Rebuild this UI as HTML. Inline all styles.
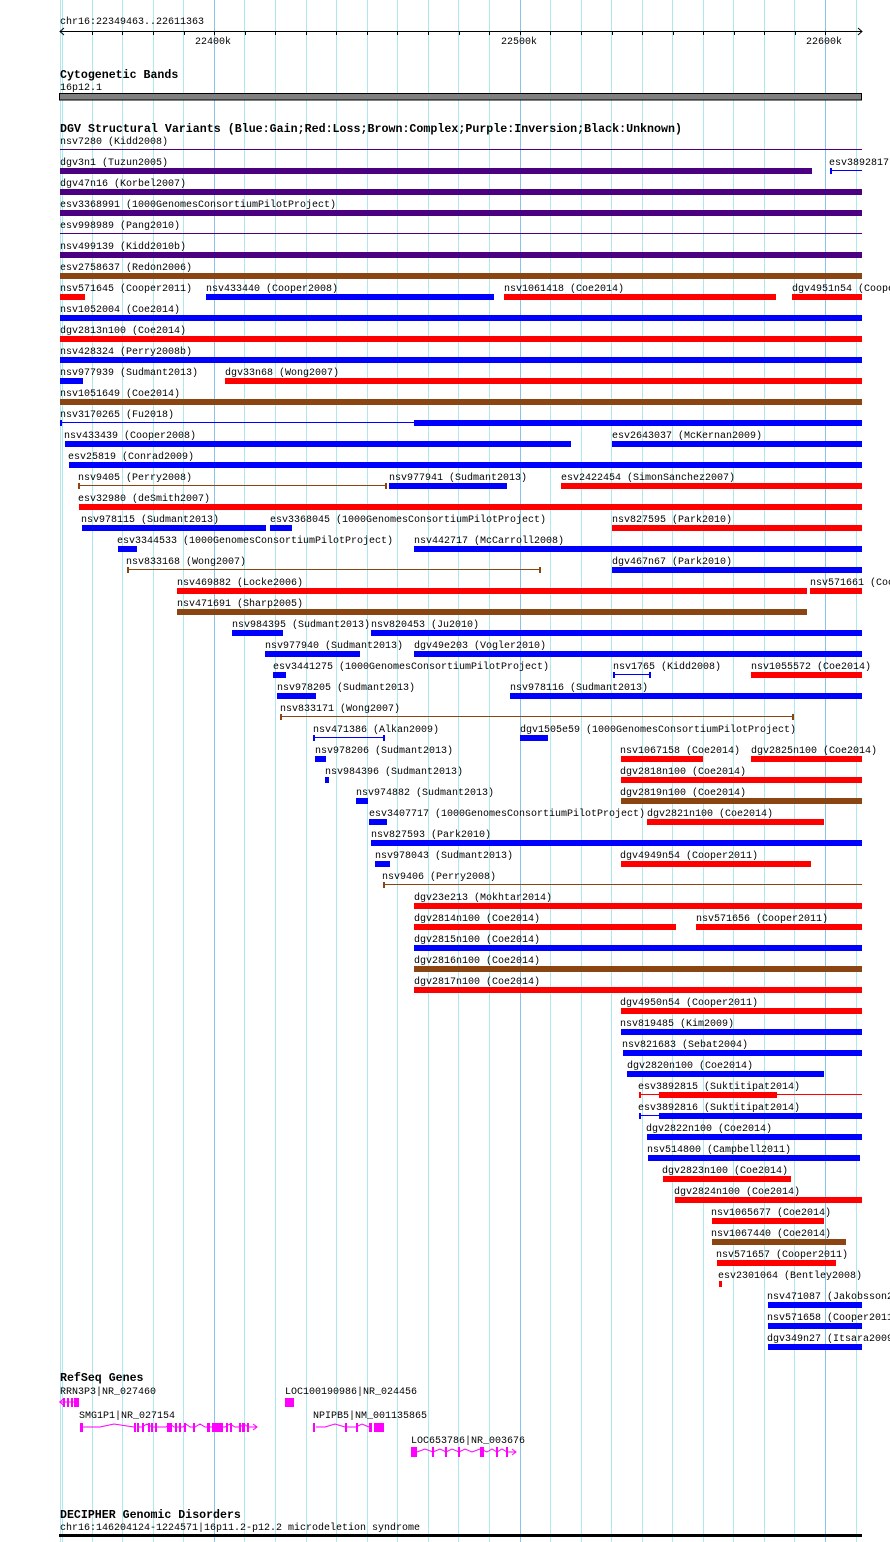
<!DOCTYPE html>
<html><head><meta charset="utf-8">
<style>
html,body{margin:0;padding:0;background:#fff;width:890px;height:1542px;overflow:hidden}
svg{display:block}
text{font-family:"Liberation Mono","DejaVu Sans Mono",monospace;font-size:10px;fill:#000}
text.b{font-weight:bold;font-size:11.6px}
.B{fill:#0000ff}.R{fill:#ff0000}.P{fill:#4b0082}.N{fill:#8b4513}.M{fill:#ff00ff}
</style></head><body>
<svg width="890" height="1542" xmlns="http://www.w3.org/2000/svg">
<g fill="#b0e8f0">
<rect x="60" y="0" width="1" height="1542"/><rect x="62" y="0" width="1" height="1542"/>
<rect x="92" y="0" width="1" height="1542"/><rect x="122" y="0" width="1" height="1542"/>
<rect x="153" y="0" width="1" height="1542"/><rect x="183" y="0" width="1" height="1542"/>
<rect x="244" y="0" width="1" height="1542"/><rect x="275" y="0" width="1" height="1542"/>
<rect x="306" y="0" width="1" height="1542"/><rect x="336" y="0" width="1" height="1542"/>
<rect x="367" y="0" width="1" height="1542"/><rect x="397" y="0" width="1" height="1542"/>
<rect x="428" y="0" width="1" height="1542"/><rect x="458" y="0" width="1" height="1542"/>
<rect x="489" y="0" width="1" height="1542"/><rect x="550" y="0" width="1" height="1542"/>
<rect x="581" y="0" width="1" height="1542"/><rect x="611" y="0" width="1" height="1542"/>
<rect x="642" y="0" width="1" height="1542"/><rect x="672" y="0" width="1" height="1542"/>
<rect x="703" y="0" width="1" height="1542"/><rect x="733" y="0" width="1" height="1542"/>
<rect x="764" y="0" width="1" height="1542"/><rect x="794" y="0" width="1" height="1542"/>
<rect x="856" y="0" width="1" height="1542"/>
</g>
<g fill="#88c4e8">
<rect x="214" y="0" width="1" height="1542"/><rect x="520" y="0" width="1" height="1542"/><rect x="825" y="0" width="1" height="1542"/>
</g>

<!-- ruler -->
<text x="60" y="24">chr16:22349463..22611363</text>
<rect x="60" y="31" width="802" height="1" fill="#000"/>
<path d="M64 28 L60 31.5 L64 35 M858 28 L862 31.5 L858 35" stroke="#000" fill="none"/>
<g fill="#000">
<rect x="92" y="31" width="1" height="4"/><rect x="122" y="31" width="1" height="4"/><rect x="153" y="31" width="1" height="4"/><rect x="184" y="31" width="1" height="4"/><rect x="214" y="31" width="1" height="4"/><rect x="245" y="31" width="1" height="4"/><rect x="275" y="31" width="1" height="4"/><rect x="306" y="31" width="1" height="4"/><rect x="336" y="31" width="1" height="4"/><rect x="367" y="31" width="1" height="4"/><rect x="397" y="31" width="1" height="4"/><rect x="428" y="31" width="1" height="4"/><rect x="459" y="31" width="1" height="4"/><rect x="489" y="31" width="1" height="4"/><rect x="520" y="31" width="1" height="4"/><rect x="550" y="31" width="1" height="4"/><rect x="581" y="31" width="1" height="4"/><rect x="612" y="31" width="1" height="4"/><rect x="642" y="31" width="1" height="4"/><rect x="673" y="31" width="1" height="4"/><rect x="703" y="31" width="1" height="4"/><rect x="734" y="31" width="1" height="4"/><rect x="764" y="31" width="1" height="4"/><rect x="795" y="31" width="1" height="4"/><rect x="825" y="31" width="1" height="4"/>
</g>
<text x="195" y="44">22400k</text><text x="501" y="44">22500k</text><text x="806" y="44">22600k</text>

<!-- cytoband -->
<text class="b" x="60" y="78">Cytogenetic Bands</text>
<text x="60" y="90">16p12.1</text>
<rect x="59.5" y="93.5" width="802" height="6.5" fill="#808080" stroke="#000"/>

<text class="b" x="60" y="132" textLength="622" lengthAdjust="spacingAndGlyphs">DGV Structural Variants (Blue:Gain;Red:Loss;Brown:Complex;Purple:Inversion;Black:Unknown)</text>

<g transform="translate(0,136)"><text x="60" y="8">nsv7280 (Kidd2008)</text><rect class="P" x="60" y="13" width="802" height="1"/></g>
<g transform="translate(0,157)"><text x="60" y="8">dgv3n1 (Tuzun2005)</text><rect class="P" x="60" y="11" width="752" height="6"/><text x="829" y="8">esv3892817</text><rect class="B" x="830" y="13" width="32" height="1"/><rect class="B" x="830" y="11" width="2" height="6"/></g>
<g transform="translate(0,178)"><text x="60" y="8">dgv47n16 (Korbel2007)</text><rect class="P" x="60" y="11" width="802" height="6"/></g>
<g transform="translate(0,199)"><text x="60" y="8">esv3368991 (1000GenomesConsortiumPilotProject)</text><rect class="P" x="60" y="11" width="802" height="6"/></g>
<g transform="translate(0,220)"><text x="60" y="8">esv998989 (Pang2010)</text><rect class="P" x="60" y="13" width="802" height="1"/></g>
<g transform="translate(0,241)"><text x="60" y="8">nsv499139 (Kidd2010b)</text><rect class="P" x="60" y="11" width="802" height="6"/></g>
<g transform="translate(0,262)"><text x="60" y="8">esv2758637 (Redon2006)</text><rect class="N" x="60" y="11" width="802" height="6"/></g>
<g transform="translate(0,283)"><text x="60" y="8">nsv571645 (Cooper2011)</text><rect class="R" x="60" y="11" width="25" height="6"/><text x="206" y="8">nsv433440 (Cooper2008)</text><rect class="B" x="206" y="11" width="288" height="6"/><text x="504" y="8">nsv1061418 (Coe2014)</text><rect class="R" x="504" y="11" width="272" height="6"/><text x="792" y="8">dgv4951n54 (Cooper2011)</text><rect class="R" x="792" y="11" width="70" height="6"/></g>
<g transform="translate(0,304)"><text x="60" y="8">nsv1052004 (Coe2014)</text><rect class="B" x="60" y="11" width="802" height="6"/></g>
<g transform="translate(0,325)"><text x="60" y="8">dgv2813n100 (Coe2014)</text><rect class="R" x="60" y="11" width="802" height="6"/></g>
<g transform="translate(0,346)"><text x="60" y="8">nsv428324 (Perry2008b)</text><rect class="B" x="60" y="11" width="802" height="6"/></g>
<g transform="translate(0,367)"><text x="60" y="8">nsv977939 (Sudmant2013)</text><rect class="B" x="60" y="11" width="23" height="6"/><text x="225" y="8">dgv33n68 (Wong2007)</text><rect class="R" x="225" y="11" width="637" height="6"/></g>
<g transform="translate(0,388)"><text x="60" y="8">nsv1051649 (Coe2014)</text><rect class="N" x="60" y="11" width="802" height="6"/></g>
<g transform="translate(0,409)"><text x="60" y="8">nsv3170265 (Fu2018)</text><rect class="B" x="60" y="13" width="354" height="1"/><rect class="B" x="60" y="11" width="2" height="6"/><rect class="B" x="414" y="11" width="448" height="6"/></g>
<g transform="translate(0,430)"><text x="64" y="8">nsv433439 (Cooper2008)</text><rect class="B" x="65" y="11" width="506" height="6"/><text x="612" y="8">esv2643037 (McKernan2009)</text><rect class="B" x="612" y="11" width="250" height="6"/></g>
<g transform="translate(0,451)"><text x="68" y="8">esv25819 (Conrad2009)</text><rect class="B" x="69" y="11" width="793" height="6"/></g>
<g transform="translate(0,472)"><text x="78" y="8">nsv9405 (Perry2008)</text><rect class="N" x="78" y="13" width="308" height="1"/><rect class="N" x="78" y="11" width="2" height="6"/><rect class="N" x="385" y="11" width="2" height="6"/><text x="389" y="8">nsv977941 (Sudmant2013)</text><rect class="B" x="389" y="11" width="118" height="6"/><text x="561" y="8">esv2422454 (SimonSanchez2007)</text><rect class="R" x="561" y="11" width="301" height="6"/></g>
<g transform="translate(0,493)"><text x="78" y="8">esv32980 (deSmith2007)</text><rect class="R" x="79" y="11" width="783" height="6"/></g>
<g transform="translate(0,514)"><text x="81" y="8">nsv978115 (Sudmant2013)</text><rect class="B" x="82" y="11" width="184" height="6"/><text x="270" y="8">esv3368045 (1000GenomesConsortiumPilotProject)</text><rect class="B" x="270" y="11" width="22" height="6"/><text x="612" y="8">nsv827595 (Park2010)</text><rect class="R" x="612" y="11" width="250" height="6"/></g>
<g transform="translate(0,535)"><text x="117" y="8">esv3344533 (1000GenomesConsortiumPilotProject)</text><rect class="B" x="118" y="11" width="19" height="6"/><text x="414" y="8">nsv442717 (McCarroll2008)</text><rect class="B" x="414" y="11" width="448" height="6"/></g>
<g transform="translate(0,556)"><text x="126" y="8">nsv833168 (Wong2007)</text><rect class="N" x="127" y="13" width="414" height="1"/><rect class="N" x="127" y="11" width="2" height="6"/><rect class="N" x="539" y="11" width="2" height="6"/><text x="612" y="8">dgv467n67 (Park2010)</text><rect class="B" x="612" y="11" width="250" height="6"/></g>
<g transform="translate(0,577)"><text x="177" y="8">nsv469882 (Locke2006)</text><rect class="R" x="177" y="11" width="630" height="6"/><text x="810" y="8">nsv571661 (Cooper2011)</text><rect class="R" x="810" y="11" width="52" height="6"/></g>
<g transform="translate(0,598)"><text x="177" y="8">nsv471691 (Sharp2005)</text><rect class="N" x="177" y="11" width="630" height="6"/></g>
<g transform="translate(0,619)"><text x="232" y="8">nsv984395 (Sudmant2013)</text><rect class="B" x="232" y="11" width="51" height="6"/><text x="371" y="8">nsv820453 (Ju2010)</text><rect class="B" x="371" y="11" width="491" height="6"/></g>
<g transform="translate(0,640)"><text x="265" y="8">nsv977940 (Sudmant2013)</text><rect class="B" x="265" y="11" width="95" height="6"/><text x="414" y="8">dgv49e203 (Vogler2010)</text><rect class="B" x="414" y="11" width="448" height="6"/></g>
<g transform="translate(0,661)"><text x="273" y="8">esv3441275 (1000GenomesConsortiumPilotProject)</text><rect class="B" x="273" y="11" width="13" height="6"/><text x="613" y="8">nsv1765 (Kidd2008)</text><rect class="B" x="613" y="13" width="38" height="1"/><rect class="B" x="613" y="11" width="2" height="6"/><rect class="B" x="649" y="11" width="2" height="6"/><text x="751" y="8">nsv1055572 (Coe2014)</text><rect class="R" x="751" y="11" width="111" height="6"/></g>
<g transform="translate(0,682)"><text x="277" y="8">nsv978205 (Sudmant2013)</text><rect class="B" x="277" y="11" width="39" height="6"/><text x="510" y="8">nsv978116 (Sudmant2013)</text><rect class="B" x="510" y="11" width="352" height="6"/></g>
<g transform="translate(0,703)"><text x="280" y="8">nsv833171 (Wong2007)</text><rect class="N" x="280" y="13" width="514" height="1"/><rect class="N" x="280" y="11" width="2" height="6"/><rect class="N" x="792" y="11" width="2" height="6"/></g>
<g transform="translate(0,724)"><text x="313" y="8">nsv471386 (Alkan2009)</text><rect class="B" x="313" y="13" width="72" height="1"/><rect class="B" x="313" y="11" width="2" height="6"/><rect class="B" x="383" y="11" width="2" height="6"/><text x="520" y="8">dgv1505e59 (1000GenomesConsortiumPilotProject)</text><rect class="B" x="520" y="11" width="28" height="6"/></g>
<g transform="translate(0,745)"><text x="315" y="8">nsv978206 (Sudmant2013)</text><rect class="B" x="315" y="11" width="11" height="6"/><text x="620" y="8">nsv1067158 (Coe2014)</text><rect class="R" x="621" y="11" width="82" height="6"/><text x="751" y="8">dgv2825n100 (Coe2014)</text><rect class="R" x="751" y="11" width="111" height="6"/></g>
<g transform="translate(0,766)"><text x="325" y="8">nsv984396 (Sudmant2013)</text><rect class="B" x="325" y="11" width="4" height="6"/><text x="620" y="8">dgv2818n100 (Coe2014)</text><rect class="R" x="621" y="11" width="241" height="6"/></g>
<g transform="translate(0,787)"><text x="356" y="8">nsv974882 (Sudmant2013)</text><rect class="B" x="356" y="11" width="12" height="6"/><text x="620" y="8">dgv2819n100 (Coe2014)</text><rect class="N" x="621" y="11" width="241" height="6"/></g>
<g transform="translate(0,808)"><text x="369" y="8">esv3407717 (1000GenomesConsortiumPilotProject)</text><rect class="B" x="369" y="11" width="18" height="6"/><text x="647" y="8">dgv2821n100 (Coe2014)</text><rect class="R" x="647" y="11" width="177" height="6"/></g>
<g transform="translate(0,829)"><text x="371" y="8">nsv827593 (Park2010)</text><rect class="B" x="371" y="11" width="491" height="6"/></g>
<g transform="translate(0,850)"><text x="375" y="8">nsv978043 (Sudmant2013)</text><rect class="B" x="375" y="11" width="15" height="6"/><text x="620" y="8">dgv4949n54 (Cooper2011)</text><rect class="R" x="621" y="11" width="190" height="6"/></g>
<g transform="translate(0,871)"><text x="382" y="8">nsv9406 (Perry2008)</text><rect class="N" x="383" y="13" width="479" height="1"/><rect class="N" x="383" y="11" width="2" height="6"/></g>
<g transform="translate(0,892)"><text x="414" y="8">dgv23e213 (Mokhtar2014)</text><rect class="R" x="414" y="11" width="448" height="6"/></g>
<g transform="translate(0,913)"><text x="414" y="8">dgv2814n100 (Coe2014)</text><rect class="R" x="414" y="11" width="262" height="6"/><text x="696" y="8">nsv571656 (Cooper2011)</text><rect class="R" x="696" y="11" width="166" height="6"/></g>
<g transform="translate(0,934)"><text x="414" y="8">dgv2815n100 (Coe2014)</text><rect class="B" x="414" y="11" width="448" height="6"/></g>
<g transform="translate(0,955)"><text x="414" y="8">dgv2816n100 (Coe2014)</text><rect class="N" x="414" y="11" width="448" height="6"/></g>
<g transform="translate(0,976)"><text x="414" y="8">dgv2817n100 (Coe2014)</text><rect class="R" x="414" y="11" width="448" height="6"/></g>
<g transform="translate(0,997)"><text x="620" y="8">dgv4950n54 (Cooper2011)</text><rect class="R" x="621" y="11" width="241" height="6"/></g>
<g transform="translate(0,1018)"><text x="620" y="8">nsv819485 (Kim2009)</text><rect class="B" x="621" y="11" width="241" height="6"/></g>
<g transform="translate(0,1039)"><text x="622" y="8">nsv821683 (Sebat2004)</text><rect class="B" x="623" y="11" width="239" height="6"/></g>
<g transform="translate(0,1060)"><text x="627" y="8">dgv2820n100 (Coe2014)</text><rect class="B" x="627" y="11" width="197" height="6"/></g>
<g transform="translate(0,1081)"><text x="638" y="8">esv3892815 (Suktitipat2014)</text><rect class="R" x="639" y="13" width="223" height="1"/><rect class="R" x="639" y="11" width="2" height="6"/><rect class="R" x="659" y="11" width="118" height="6"/></g>
<g transform="translate(0,1102)"><text x="638" y="8">esv3892816 (Suktitipat2014)</text><rect class="B" x="639" y="13" width="20" height="1"/><rect class="B" x="639" y="11" width="2" height="6"/><rect class="B" x="659" y="11" width="203" height="6"/></g>
<g transform="translate(0,1123)"><text x="646" y="8">dgv2822n100 (Coe2014)</text><rect class="B" x="647" y="11" width="215" height="6"/></g>
<g transform="translate(0,1144)"><text x="647" y="8">nsv514800 (Campbell2011)</text><rect class="B" x="648" y="11" width="212" height="6"/></g>
<g transform="translate(0,1165)"><text x="662" y="8">dgv2823n100 (Coe2014)</text><rect class="R" x="663" y="11" width="128" height="6"/></g>
<g transform="translate(0,1186)"><text x="674" y="8">dgv2824n100 (Coe2014)</text><rect class="R" x="675" y="11" width="187" height="6"/></g>
<g transform="translate(0,1207)"><text x="711" y="8">nsv1065677 (Coe2014)</text><rect class="R" x="712" y="11" width="112" height="6"/></g>
<g transform="translate(0,1228)"><text x="711" y="8">nsv1067440 (Coe2014)</text><rect class="N" x="712" y="11" width="134" height="6"/></g>
<g transform="translate(0,1249)"><text x="716" y="8">nsv571657 (Cooper2011)</text><rect class="R" x="717" y="11" width="119" height="6"/></g>
<g transform="translate(0,1270)"><text x="718" y="8">esv2301064 (Bentley2008)</text><rect class="R" x="719" y="11" width="3" height="6"/></g>
<g transform="translate(0,1291)"><text x="767" y="8">nsv471087 (Jakobsson2008)</text><rect class="B" x="768" y="11" width="94" height="6"/></g>
<g transform="translate(0,1312)"><text x="767" y="8">nsv571658 (Cooper2011)</text><rect class="B" x="768" y="11" width="94" height="6"/></g>
<g transform="translate(0,1333)"><text x="767" y="8">dgv349n27 (Itsara2009)</text><rect class="B" x="768" y="11" width="94" height="6"/></g>

<!-- RefSeq -->
<text class="b" x="60" y="1381">RefSeq Genes</text>
<text x="60" y="1394">RRN3P3|NR_027460</text>
<g class="M">
<path d="M60 1402 L63 1399 M60 1402 L63 1405 M59 1402 H79" stroke="#ff00ff" fill="none"/>
<rect x="63" y="1398" width="2" height="9"/><rect x="67" y="1398" width="2" height="9"/><rect x="71" y="1398" width="2" height="9"/><rect x="74" y="1398" width="5" height="9"/>
<text x="285" y="1394">LOC100190986|NR_024456</text>
<rect x="285" y="1398" width="9" height="9"/>
</g>
<text x="79" y="1418">SMG1P1|NR_027154</text>
<g stroke="#ff00ff" fill="none">
<polyline points="82,1427 100,1427 114,1424 134,1427"/>
<polyline points="137,1427 142,1427 147,1424 152,1427 166,1427 170,1424 174,1427 183,1427 186,1424 190,1427 195,1427 200,1424 205,1427 210,1427 225,1427 230,1424 235,1427 240,1427 244,1424 248,1427 257,1427"/>
<path d="M253 1424 L257 1427 L253 1430"/>
<polyline points="316,1427 325,1427 335,1424 345,1427 356,1427 362,1424 369,1427"/>
<polyline points="417,1452 425,1449 433,1452 440,1449 446,1452 452,1449 459,1452 465,1449 472,1452 480,1449 487,1452 492,1449 497,1452 502,1449 507,1452 516,1452"/>
<path d="M512 1449 L516 1452 L512 1455"/>
</g>
<g fill="#ff00ff">
<rect x="80" y="1423" width="3" height="9"/><rect x="134" y="1423" width="2" height="9"/><rect x="137" y="1423" width="2" height="9"/><rect x="142" y="1423" width="2" height="9"/><rect x="148" y="1423" width="2" height="9"/><rect x="151" y="1423" width="2" height="9"/><rect x="155" y="1423" width="2" height="9"/><rect x="167" y="1423" width="5" height="9"/><rect x="175" y="1423" width="2" height="9"/><rect x="179" y="1423" width="2" height="9"/><rect x="184" y="1423" width="2" height="9"/><rect x="193" y="1423" width="2" height="9"/><rect x="207" y="1423" width="3" height="9"/><rect x="212" y="1423" width="11" height="9"/><rect x="226" y="1423" width="2" height="9"/><rect x="230" y="1423" width="2" height="9"/><rect x="239" y="1423" width="2" height="9"/><rect x="242" y="1423" width="3" height="9"/><rect x="247" y="1423" width="2" height="9"/>
<rect x="313" y="1423" width="2" height="9"/><rect x="345" y="1423" width="2" height="9"/><rect x="356" y="1423" width="2" height="9"/><rect x="369" y="1423" width="3" height="9"/><rect x="374" y="1423" width="10" height="9"/>
<rect x="411" y="1447" width="6" height="10"/><rect x="432" y="1447" width="2" height="10"/><rect x="445" y="1447" width="2" height="10"/><rect x="458" y="1447" width="2" height="10"/><rect x="480" y="1447" width="4" height="10"/><rect x="496" y="1447" width="2" height="10"/><rect x="506" y="1447" width="2" height="10"/>
</g>
<text x="313" y="1418">NPIPB5|NM_001135865</text>
<text x="411" y="1443">LOC653786|NR_003676</text>

<!-- DECIPHER -->
<text class="b" x="60" y="1518">DECIPHER Genomic Disorders</text>
<text x="60" y="1530">chr16:146204124-1224571|16p11.2-p12.2 microdeletion syndrome</text>
<rect x="59" y="1534" width="803" height="3" fill="#000"/>
</svg>
</body></html>
